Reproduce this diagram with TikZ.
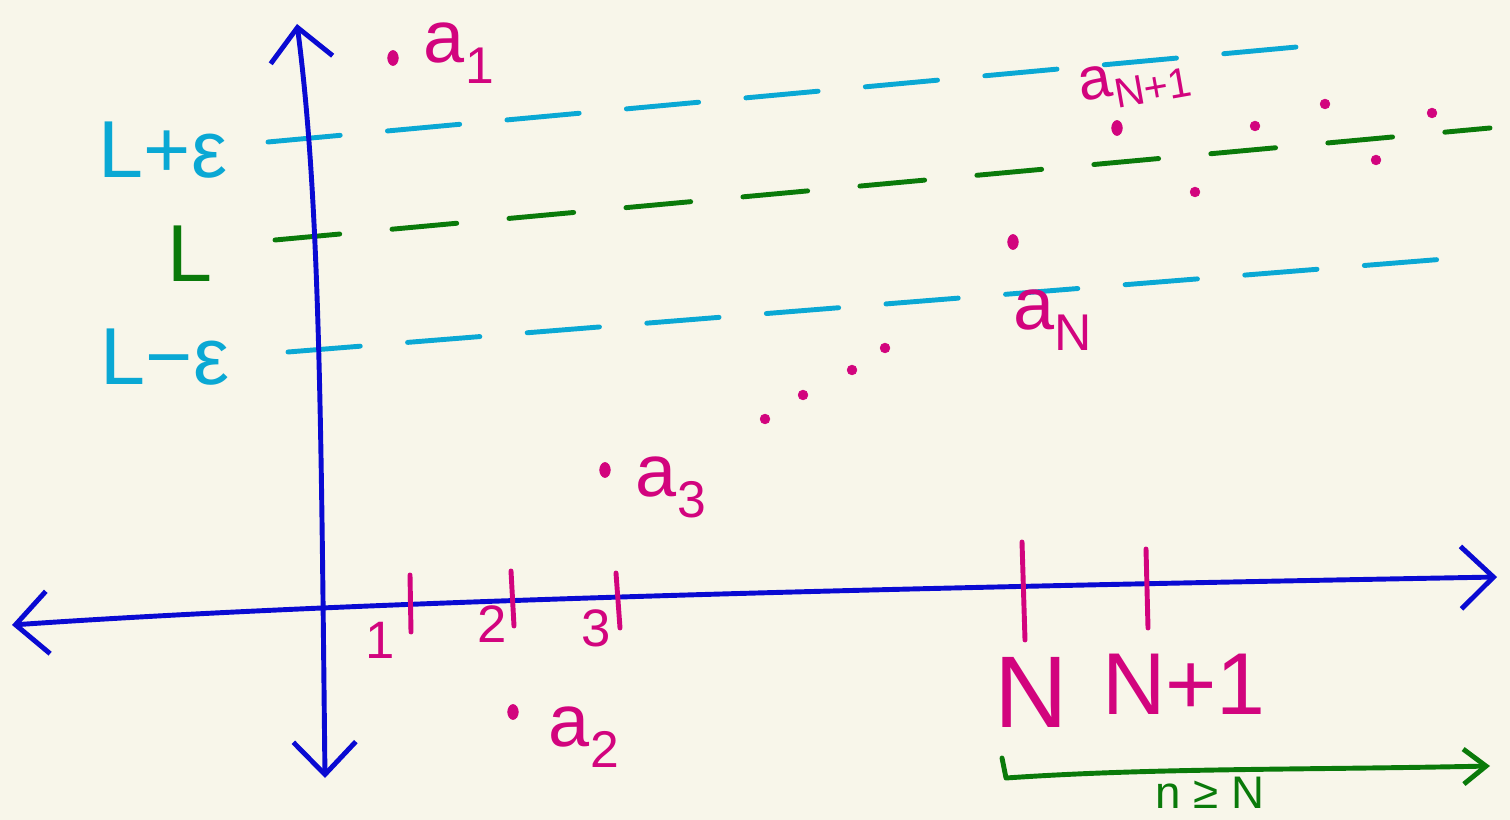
\documentclass[tikz,border=0pt]{standalone}
\usepackage{fontspec}
\setmainfont{Liberation Sans}
\usepackage{xcolor}
\usetikzlibrary{arrows.meta,positioning,shapes.geometric}
\definecolor{paper}{HTML}{F8F6EA}
\definecolor{axisblue}{HTML}{0A0AD2}
\definecolor{bandcyan}{HTML}{0AA8D4}
\definecolor{limgreen}{HTML}{0A7A0A}
\definecolor{seqpink}{HTML}{D2047E}
\tikzset{
    axisline/.style = {draw=axisblue, line width=2.8pt, line cap=round, >={Straight Barb[length=0.65cm, width=1.25cm]}},
    bandline/.style = {draw=bandcyan, line width=2.8pt, line cap=round, dash pattern=on 1.45cm off 0.95cm},
    limline/.style = {draw=limgreen, line width=2.8pt, line cap=round, dash pattern=on 1.3cm off 1.05cm},
    tickmark/.style = {draw=seqpink, line width=2.8pt, line cap=round},
    seqdot/.style = {ellipse, draw=seqpink, fill=seqpink, inner sep=0pt, minimum width=6pt, minimum height=8.5pt},
    smalldot/.style = {circle, draw=seqpink, fill=seqpink, inner sep=0pt, minimum size=5.5pt},
    seqlabel/.style = {text=seqpink, font=\fontsize{42}{42}\selectfont, inner sep=0pt},
    ticklabel/.style = {text=seqpink, font=\fontsize{30}{30}\selectfont, inner sep=0pt},
    bandlabel/.style = {text=bandcyan, font=\fontsize{46}{46}\selectfont, inner sep=0pt},
    limlabel/.style = {text=limgreen, font=\fontsize{46}{46}\selectfont, inner sep=0pt},
    tailline/.style = {draw=limgreen, line width=2.8pt, line cap=round, line join=round, ->, >={Straight Barb[length=0.45cm, width=0.7cm]}}
}

\begin{document}
\begin{tikzpicture}[
    x=0.02cm,
    y=-0.02cm,
    node distance=0.35cm
]
    \fill [paper] (0,0) rectangle (1510,820);
    \useasboundingbox (0,0) rectangle (1510,820);

    \coordinate (ybot) at (325,778);
    \coordinate (ytop) at (297,24);
    \coordinate (xleft) at (12,625);
    \coordinate (xright) at (1497,577);

    \draw [bandline] (268,142) -- (1340,43);
    \draw [limline] (275,240) -- (1490,128);
    \draw [bandline] (288,352) -- (1445,259);

    \draw [axisline, <->] (ybot) .. controls (321,420) and (320,200) .. (ytop);
    \draw [axisline, <->] (xleft) .. controls (400,598) and (1000,586) .. (xright);

    \node [bandlabel] (upper) at (163,150) {L+ε};
    \node [limlabel] (limit) at (190,254) {L};
    \node [bandlabel] (lower) at (165,357) {L−ε};

    \draw [tickmark] (410,575) -- (411,632);
    \draw [tickmark] (511,571) -- (514,626);
    \draw [tickmark] (616,573) -- (620,628);
    \draw [tickmark] (1022,542) -- (1025,640);
    \draw [tickmark] (1146,549) -- (1148,628);
    \node [ticklabel] (one) at (380,640) {1};
    \node [ticklabel] (two) at (492,624) {2};
    \node [ticklabel] (three) at (596,628) {3};
    \node [seqlabel, font=\fontsize{58}{58}\selectfont] (bigN) at (1031,692) {N};
    \node [seqlabel, font=\fontsize{50}{50}\selectfont] (nextN) at (1184,684) {N+1};

    \node [seqdot] (p1) at (393,58) {};
    \node [seqdot] (p2) at (513,712) {};
    \node [seqdot] (p3) at (605,470) {};
    \node [seqdot] (pN) at (1013,242) {};
    \node [seqdot] (pNext) at (1117,128) {};
    \node [seqlabel, right=0.5cm of p1, yshift=0.1cm] (a1) {a\textsubscript{1}};
    \node [seqlabel, right=0.6cm of p2, yshift=-0.5cm] (a2) {a\textsubscript{2}};
    \node [seqlabel, right=0.5cm of p3, yshift=-0.35cm] (a3) {a\textsubscript{3}};
    \node [seqlabel, below=0.8cm of pN, xshift=0.8cm] (aN) {a\textsubscript{N}};
    \node [seqlabel, font=\fontsize{34}{34}\selectfont, above=0.3cm of pNext, xshift=0.45cm, rotate=10] (aNext) {a\textsubscript{N+1}};

    \node [smalldot] (d1) at (765,419) {};
    \node [smalldot] (d2) at (803,395) {};
    \node [smalldot] (d3) at (852,370) {};
    \node [smalldot] (d4) at (885,348) {};
    \node [smalldot] (d5) at (1195,192) {};
    \node [smalldot] (d6) at (1255,126) {};
    \node [smalldot] (d7) at (1325,104) {};
    \node [smalldot] (d8) at (1376,160) {};
    \node [smalldot] (d9) at (1432,113) {};

    \coordinate (tailstart) at (1002,758);
    \coordinate (tailend) at (1490,766);
    \draw [tailline] (tailstart) -- (1006,778) .. controls (1150,768) and (1300,770) .. (tailend);
    \node [limlabel, font=\fontsize{26}{26}\selectfont, anchor=base] (tail) at (1210,808) {n ≥ N};
\end{tikzpicture}
\end{document}
